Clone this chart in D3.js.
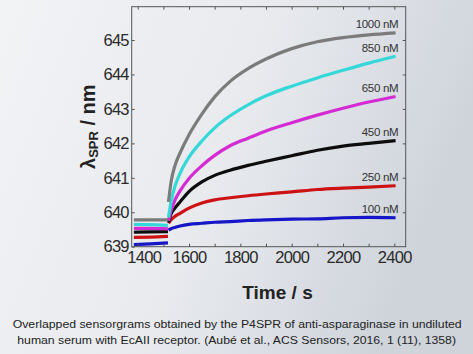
<!DOCTYPE html>
<html>
<head>
<meta charset="utf-8">
<script src="https://cdn.jsdelivr.net/npm/d3@7"></script>
<style>
  html, body { margin:0; padding:0; }
  body { width:473px; height:354px; overflow:hidden; background:#eceef1; }
  .tick text { fill:#2a2a2a; font-family:"Liberation Sans", Arial, sans-serif; }
  .tick line { stroke:#555; }
</style>
</head>
<body>
<div id="chart"></div>
<script>
// sensorgram data (time in s, lambda in nm)
var time_base  = [1385, 1450, 1518];
var time_assoc = [1520, 1530, 1545, 1565, 1600, 1650, 1700, 1760, 1830, 1900, 2000, 2100, 2200, 2300, 2405];

var conc_labels = ["1000 nM", "850 nM", "650 nM", "450 nM", "250 nM", "100 nM"];

var base_1000  = [639.78, 639.78, 639.78];
var base_850   = [639.65, 639.64, 639.62];
var base_650   = [639.53, 639.53, 639.52];
var base_450   = [639.42, 639.43, 639.44];
var base_250   = [639.27, 639.28, 639.30];
var base_100   = [639.06, 639.08, 639.11];

var assoc_1000 = [640.3, 640.88, 641.35, 641.72, 642.25, 642.85, 643.35, 643.8, 644.17, 644.45, 644.75, 644.95, 645.07, 645.15, 645.21];
var assoc_850  = [639.85, 640.3, 640.75, 641.13, 641.6, 642.07, 642.45, 642.8, 643.12, 643.38, 643.66, 643.9, 644.12, 644.33, 644.53];
var assoc_650  = [639.75, 640.05, 640.35, 640.62, 640.98, 641.35, 641.65, 641.93, 642.15, 642.36, 642.6, 642.82, 643.02, 643.2, 643.36];
var assoc_450  = [639.7, 639.95, 640.12, 640.3, 640.6, 640.88, 641.07, 641.22, 641.36, 641.48, 641.64, 641.8, 641.92, 642.0, 642.08];
var assoc_250  = [639.68, 639.78, 639.88, 639.97, 640.12, 640.27, 640.36, 640.42, 640.48, 640.53, 640.59, 640.66, 640.7, 640.73, 640.77];
var assoc_100  = [639.48, 639.52, 639.56, 639.6, 639.65, 639.68, 639.71, 639.73, 639.76, 639.78, 639.8, 639.81, 639.84, 639.85, 639.84];

var x_ticks = [1400, 1500, 1600, 1700, 1800, 1900, 2000, 2100, 2200, 2300, 2400];
var y_ticks = [639, 640, 641, 642, 643, 644, 645];

var caption_lines = [
  "Overlapped sensorgrams obtained by the P4SPR of anti-asparaginase in undiluted",
  "human serum with EcAII receptor. (Aub\u00e9 et al., ACS Sensors, 2016, 1 (11), 1358)"
];

// styles
var series_colors = ["#7b7b7b", "#35d8d8", "#d42bd4", "#0d0d0d", "#cc1212", "#1616c8"];

var width_chart  = 473;
var height_chart = 354;
var plot_left = 131.7, plot_right = 405.7, plot_top = 6.7, plot_bottom = 246.7;

var svg = d3.select("#chart").append("svg")
  .attr("width", width_chart)
  .attr("height", height_chart);

var grad = svg.append("defs").append("linearGradient")
  .attr("id", "bg")
  .attr("x1", "0").attr("y1", "0").attr("x2", "1").attr("y2", "0.3");
grad.append("stop").attr("offset", "0").attr("stop-color", "#f2f3f5");
grad.append("stop").attr("offset", "0.55").attr("stop-color", "#e8eaee");
grad.append("stop").attr("offset", "1").attr("stop-color", "#cfd4db");

svg.append("rect")
  .attr("width", width_chart)
  .attr("height", height_chart)
  .attr("fill", "url(#bg)");

var x = d3.scaleLinear()
  .domain([1376.6, 2444.4])
  .range([plot_left, plot_right]);
var y = d3.scaleLinear()
  .domain([639, 645.967])
  .range([plot_bottom, plot_top]);

var line = d3.line()
  .curve(d3.curveMonotoneX)
  .x(function (d) { return x(d[0]); })
  .y(function (d) { return y(d[1]); });

var bases  = [base_1000, base_850, base_650, base_450, base_250, base_100];
var assocs = [assoc_1000, assoc_850, assoc_650, assoc_450, assoc_250, assoc_100];

var curves = svg.append("g");
// draw lowest concentration first so the high ones sit on top
for (var i = bases.length - 1; i >= 0; i--) {
  var b = d3.zip(time_base, bases[i]);
  var a = d3.zip(time_assoc, assocs[i]);
  curves.append("path")
    .attr("d", line(b))
    .attr("fill", "none")
    .attr("stroke", series_colors[i])
    .attr("stroke-width", 3.2);
  curves.append("path")
    .attr("d", line(a))
    .attr("fill", "none")
    .attr("stroke", series_colors[i])
    .attr("stroke-width", 3.2);
}

// concentration labels next to the curve ends
svg.append("g").selectAll("text")
  .data(conc_labels)
  .enter().append("text")
  .attr("x", x(2400) + 4)
  .attr("y", function (d, i) { return y(assocs[i][assocs[i].length - 1]) - 4.5; })
  .attr("text-anchor", "end")
  .style("font-family", "'Liberation Sans', Arial, sans-serif")
  .style("font-size", "11.5px")
  .style("letter-spacing", "-0.3px")
  .style("fill", "#333")
  .text(function (d) { return d; });

// axes, ticks pointing inward on all four sides
var axis_bottom = svg.append("g")
  .attr("transform", "translate(0," + plot_bottom + ")")
  .call(d3.axisBottom(x).tickValues(x_ticks).tickSize(-3).tickPadding(5)
    .tickFormat(function (d) { return d % 200 === 0 ? d : ""; }));
axis_bottom.selectAll("text")
  .style("font-size", "16.5px")
  .style("letter-spacing", "-0.7px")
  .attr("dx", function (d) { return d === 1400 ? 6 : 0; });

svg.append("g")
  .attr("transform", "translate(0," + plot_top + ")")
  .call(d3.axisTop(x).tickValues(x_ticks).tickSize(-3).tickFormat(""));

var axis_left = svg.append("g")
  .attr("transform", "translate(" + plot_left + ",0)")
  .call(d3.axisLeft(y).tickValues(y_ticks).tickSize(-3).tickPadding(3)
    .tickFormat(d3.format("d")));
axis_left.selectAll("text")
  .style("font-size", "16.5px")
  .style("letter-spacing", "-0.8px");

svg.append("g")
  .attr("transform", "translate(" + plot_right + ",0)")
  .call(d3.axisRight(y).tickValues(y_ticks.slice(1)).tickSize(-3).tickFormat(""));

svg.selectAll(".domain").remove();

svg.append("rect")
  .attr("x", plot_left)
  .attr("y", plot_top)
  .attr("width", plot_right - plot_left)
  .attr("height", plot_bottom - plot_top)
  .attr("fill", "none")
  .attr("stroke", "#555")
  .attr("stroke-width", 1);

// axis titles
svg.append("text")
  .attr("x", 277.5)
  .attr("y", 299)
  .attr("text-anchor", "middle")
  .style("font-family", "'Liberation Sans', Arial, sans-serif")
  .style("font-size", "19px")
  .style("font-weight", "bold")
  .style("fill", "#222")
  .text("Time / s");

var ytitle = svg.append("text")
  .attr("transform", "translate(95," + ((plot_top + plot_bottom) / 2) + ") rotate(-90)")
  .attr("text-anchor", "middle")
  .style("font-family", "'Liberation Sans', Arial, sans-serif")
  .style("font-size", "20px")
  .style("font-weight", "bold")
  .style("fill", "#222");
ytitle.append("tspan").text("\u03bb");
ytitle.append("tspan").attr("dy", 3).style("font-size", "13px").text("SPR");
ytitle.append("tspan").attr("dy", -3).text(" / nm");

// caption
svg.append("g").selectAll("text")
  .data(caption_lines)
  .enter().append("text")
  .attr("x", function (d, i) { return i === 0 ? 12.7 : 17.3; })
  .attr("y", function (d, i) { return 328.3 + i * 16; })
  .attr("textLength", function (d, i) { return i === 0 ? 449 : 438.7; })
  .attr("lengthAdjust", "spacingAndGlyphs")
  .style("font-family", "'Liberation Sans', Arial, sans-serif")
  .style("font-size", "11.4px")
  .style("fill", "#222")
  .text(function (d) { return d; });
</script>
</body>
</html>
